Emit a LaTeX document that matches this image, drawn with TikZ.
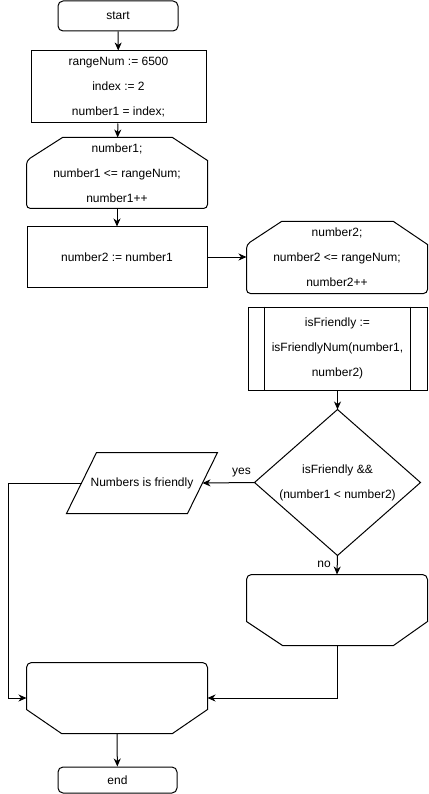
\documentclass[tikz,border=0pt]{standalone}
\usepackage{fontspec}
\setmainfont{Liberation Sans}
\usetikzlibrary{arrows.meta,calc}

\begin{document}
\begin{tikzpicture}[x=1pt,y=-1pt,line width=1pt,
  txt/.style={font=\fontsize{12}{25}\selectfont,align=center,inner sep=0pt},
  terminal/.style={txt,draw,rounded corners=5pt},
  procbox/.style={txt,draw},
  holder/.style={txt},
  outline/.style={draw,line join=miter},
  arr/.style={-{Stealth[length=8pt,width=7pt,inset=2.5pt]}},
  lbl/.style={font=\fontsize{12}{14}\selectfont,inner sep=0pt}]
\useasboundingbox (0,0) rectangle (428,794);

% --- nodes ---
\node[terminal,minimum width=120pt,minimum height=30pt] (start) at (118,16) {start};
\node[procbox,minimum width=175pt,minimum height=72pt] (init) at (118.5,87)
  {rangeNum := 6500\\index := 2\\number1 = index;};
\node[holder,minimum width=180pt,minimum height=70pt] (loopA) at (117,173)
  {number1;\\number1 <= rangeNum;\\number1++};
\node[procbox,minimum width=180pt,minimum height=60pt] (assign) at (117,257)
  {number2 := number1};
\node[holder,minimum width=180pt,minimum height=71pt] (loopB) at (337,257.5)
  {number2;\\number2 <= rangeNum;\\number2++};
\node[procbox,minimum width=179pt,minimum height=83pt] (call) at (337.5,348.5)
  {isFriendly :=\\isFriendlyNum(number1,\\number2)};
\node[holder,minimum width=165pt,minimum height=145pt] (cond) at (337.5,482.5)
  {isFriendly \&\&\\(number1 < number2)};
\node[holder,minimum width=150pt,minimum height=60pt] (out) at (142,483)
  {Numbers is friendly};
\node[holder,minimum width=180pt,minimum height=70pt] (endB) at (337,610) {};
\node[holder,minimum width=180pt,minimum height=70pt] (endA) at (117,698) {};
\node[terminal,minimum width=119pt,minimum height=26pt] (stop) at (117.5,780) {end};

% --- outlines of the custom shapes ---
% loop start: cut top corners, rounded bottom corners
\draw[outline] ($(loopA.north west)+(36,0)$) -- ($(loopA.north east)+(-35,0)$)
  -- ($(loopA.north east)+(0,23)$) [rounded corners=4pt] -- (loopA.south east)
  -- (loopA.south west) -- ($(loopA.north west)+(0,23)$) [sharp corners] -- cycle;
\draw[outline] ($(loopB.north west)+(35,0)$) -- ($(loopB.north east)+(-34,0)$)
  -- ($(loopB.north east)+(0,23)$) [rounded corners=4pt] -- (loopB.south east)
  -- (loopB.south west) -- ($(loopB.north west)+(0,23)$) [sharp corners] -- cycle;
% predefined process side bars
\draw ($(call.north west)+(17,0)$) -- ($(call.south west)+(17,0)$);
\draw ($(call.north east)+(-17,0)$) -- ($(call.south east)+(-17,0)$);
% decision
\draw[outline] (cond.north) -- (cond.east) -- (cond.south) -- (cond.west) -- cycle;
% output parallelogram
\draw[outline] ($(out.north west)+(30,0)$) -- (out.north east)
  -- ($(out.south east)+(-30,0)$) -- (out.south west) -- cycle;
% loop ends: rounded top corners, cut bottom corners
\draw[outline] ($(endB.north west)+(0,47)$) [rounded corners=5pt] -- (endB.north west)
  -- (endB.north east) [sharp corners] -- ($(endB.north east)+(0,47)$)
  -- ($(endB.south east)+(-34,0)$) -- ($(endB.south west)+(36,0)$) -- cycle;
\draw[outline] ($(endA.north west)+(0,47)$) [rounded corners=5pt] -- (endA.north west)
  -- (endA.north east) [sharp corners] -- ($(endA.north east)+(0,47)$)
  -- ($(endA.south east)+(-35,0)$) -- ($(endA.south west)+(35,0)$) -- cycle;

% --- connector end points on the parallelogram sides ---
\coordinate (outIn) at ($(out.east)+(-15,0)$);
\coordinate (outOut) at ($(out.west)+(15,0)$);
\coordinate (leftRail) at (8,483);

% --- connectors ---
\draw[arr] (start) -- (init);
\draw[arr] (init) -- (loopA);
\draw[arr] (loopA) -- (assign);
\draw[arr] (assign.east) -- (assign.east -| loopB.west);
\draw[arr] (call) -- (cond.north);
\draw[arr] (cond.west) -- node[lbl,above=5pt,pos=0.25] {yes} (outIn);
\draw[arr] (cond.south) -- node[lbl,left=6pt,pos=0.45] {no} (endB.north);
\draw[arr] (outOut) -- (leftRail) |- (endA.west);
\draw[arr] (endB.south) |- (endA.east);
\draw[arr] (endA.south) -- (stop);
\end{tikzpicture}
\end{document}
